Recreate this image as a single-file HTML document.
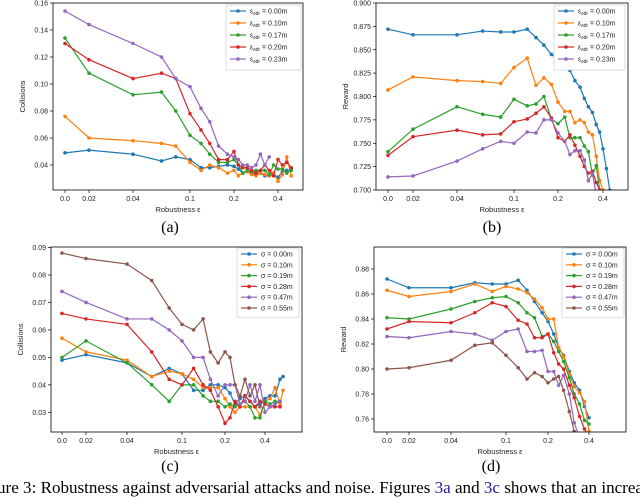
<!DOCTYPE html>
<html><head><meta charset="utf-8"><style>
html,body{margin:0;padding:0;background:#fff;width:640px;height:497px;overflow:hidden}
svg{display:block}
text{font-family:"Liberation Sans",sans-serif}
.ser{font-family:"Liberation Serif",serif}
</style></head><body>
<svg id="fig" width="640" height="497" viewBox="0 0 640 497">
<text class="ser" x="170" y="232" font-size="16" text-anchor="middle">(a)</text>
<text class="ser" x="492" y="232" font-size="16" text-anchor="middle">(b)</text>
<text class="ser" x="170" y="471" font-size="16" text-anchor="middle">(c)</text>
<text class="ser" x="491" y="471" font-size="16" text-anchor="middle">(d)</text>
<text class="ser" x="-3" y="493" font-size="16.5" textLength="646" lengthAdjust="spacingAndGlyphs">ure 3:  Robustness against adversarial attacks and noise. Figures <tspan fill="#1a1aa0">3a</tspan> and <tspan fill="#1a1aa0">3c</tspan> shows that an increa</text>
</svg>
<script>
const COLORS=['#1f77b4','#ff7f0e','#2ca02c','#d62728','#9467bd','#8c564b'];
const xTickVals=[0,0.02,0.04,0.1,0.2,0.4];
const xTickLabels=['0.0','0.02','0.04','0.1','0.2','0.4'];

// Panel (a)
const xA=[0,0.02,0.04,0.07,0.085,0.1,0.125,0.145,0.165,0.185,0.2,0.22,0.24,0.26,0.28,0.30,0.32,0.34,0.36,0.38,0.40,0.42,0.44,0.46];
const aBlue=[0.049,0.051,0.048,0.043,0.046,0.044,0.038,0.038,0.039,0.040,0.039,0.037,0.034,0.035,0.034,0.033,0.034,0.032,0.032,0.033,0.031,0.035,0.036,0.037];
const aOrange=[0.076,0.060,0.058,0.056,0.054,0.042,0.036,0.040,0.038,0.034,0.036,0.032,0.034,0.035,0.033,0.032,0.034,0.033,0.032,0.034,0.028,0.033,0.046,0.032];
const aGreen=[0.134,0.108,0.092,0.094,0.080,0.062,0.056,0.048,0.042,0.042,0.044,0.040,0.034,0.036,0.035,0.036,0.036,0.036,0.033,0.040,0.037,0.037,0.034,0.036];
const aRed=[0.130,0.118,0.104,0.108,0.104,0.078,0.066,0.056,0.044,0.044,0.050,0.040,0.038,0.038,0.036,0.034,0.036,0.040,0.036,0.032,0.044,0.040,0.042,0.038];
const aPurple=[0.154,0.144,0.130,0.120,0.104,0.098,0.082,0.072,0.054,0.048,0.046,0.044,0.040,0.040,0.038,0.040,0.048,0.040,0.046];
const aYTicks=[0.04,0.06,0.08,0.10,0.12,0.14,0.16];
const aYLabels=['0.04','0.06','0.08','0.10','0.12','0.14','0.16'];
const legendAB=['0.00m','0.10m','0.17m','0.20m','0.23m'];

// Panel (b)
const xB=[0,0.02,0.04,0.067,0.086,0.1,0.13,0.15,0.168,0.185,0.2,0.23,0.253,0.275,0.298,0.317,0.335,0.353,0.37,0.385,0.4,0.415,0.43];
const bBlue=[0.872,0.866,0.866,0.870,0.869,0.869,0.872,0.863,0.855,0.845,0.840,0.835,0.828,0.817,0.810,0.798,0.789,0.783,0.770,0.762,0.744,0.723,0.700];
const bOrange=[0.807,0.821,0.817,0.816,0.814,0.831,0.841,0.812,0.820,0.813,0.794,0.784,0.784,0.772,0.775,0.772,0.762,0.759,0.736,0.710,0.700];
const bGreen=[0.741,0.765,0.789,0.781,0.778,0.797,0.790,0.792,0.800,0.776,0.771,0.778,0.756,0.756,0.756,0.747,0.741,0.716,0.726,0.700];
const bRed=[0.737,0.757,0.764,0.759,0.760,0.773,0.776,0.782,0.789,0.777,0.756,0.752,0.759,0.748,0.736,0.725,0.718,0.720,0.708,0.700];
const bPurple=[0.714,0.715,0.731,0.744,0.752,0.750,0.762,0.761,0.775,0.775,0.761,0.752,0.738,0.742,0.742,0.732,0.710,0.718,0.695];
const bYTicks=[0.700,0.725,0.750,0.775,0.800,0.825,0.850,0.875,0.900];
const bYLabels=['0.700','0.725','0.750','0.775','0.800','0.825','0.850','0.875','0.900'];

// Panel (c)
const xC=[0,0.02,0.04,0.067,0.086,0.1,0.127,0.149,0.166,0.184,0.2,0.225,0.25,0.275,0.3,0.325,0.35,0.375,0.4,0.425,0.45,0.475,0.49];
const cBlue=[0.049,0.051,0.048,0.043,0.046,0.044,0.038,0.038,0.040,0.040,0.039,0.037,0.033,0.035,0.036,0.034,0.032,0.033,0.035,0.036,0.036,0.042,0.043];
const cOrange=[0.057,0.052,0.049,0.043,0.045,0.044,0.042,0.039,0.039,0.039,0.035,0.032,0.030,0.032,0.032,0.032,0.032,0.029,0.034,0.035,0.039,0.033,0.038];
const cGreen=[0.050,0.056,0.048,0.040,0.034,0.040,0.040,0.036,0.034,0.034,0.032,0.033,0.032,0.033,0.034,0.032,0.028,0.028,0.034,0.033,0.034,0.034];
const cRed=[0.066,0.064,0.062,0.052,0.042,0.040,0.046,0.040,0.038,0.032,0.026,0.028,0.034,0.032,0.036,0.034,0.032,0.034,0.033,0.032,0.032,0.032];
const cPurple=[0.074,0.070,0.064,0.064,0.060,0.056,0.050,0.050,0.042,0.036,0.040,0.040,0.040,0.033,0.034,0.040,0.034,0.040,0.030,0.032,0.033,0.034];
const cBrown=[0.088,0.086,0.084,0.078,0.068,0.062,0.060,0.064,0.052,0.048,0.052,0.050,0.040,0.036,0.042,0.036,0.040,0.032];
const cYTicks=[0.03,0.04,0.05,0.06,0.07,0.08,0.09];
const cYLabels=['0.03','0.04','0.05','0.06','0.07','0.08','0.09'];
const legendCD=['0.00m','0.10m','0.19m','0.28m','0.47m','0.55m'];

// Panel (d)
const xD=[0,0.02,0.04,0.066,0.085,0.1,0.129,0.15,0.168,0.186,0.2,0.228,0.252,0.276,0.304,0.328,0.354,0.378,0.4];
const dBlue=[0.872,0.865,0.865,0.869,0.868,0.868,0.871,0.863,0.854,0.845,0.838,0.828,0.817,0.811,0.798,0.789,0.783,0.770,0.761];
const dOrange=[0.863,0.858,0.862,0.868,0.862,0.866,0.864,0.861,0.856,0.849,0.840,0.840,0.817,0.810,0.796,0.786,0.781,0.774,0.750];
const dGreen=[0.841,0.840,0.848,0.854,0.857,0.858,0.853,0.845,0.841,0.826,0.828,0.822,0.814,0.806,0.793,0.780,0.772,0.759,0.756];
const dRed=[0.832,0.838,0.837,0.845,0.853,0.850,0.839,0.836,0.825,0.825,0.828,0.813,0.804,0.800,0.787,0.777,0.762,0.752,0.745];
const dPurple=[0.826,0.825,0.830,0.828,0.823,0.830,0.832,0.814,0.814,0.815,0.798,0.798,0.787,0.795,0.780,0.757,0.745];
const dBrown=[0.800,0.801,0.807,0.819,0.821,0.811,0.801,0.792,0.797,0.794,0.789,0.792,0.794,0.783,0.766,0.750,0.745];
const dYTicks=[0.76,0.78,0.80,0.82,0.84,0.86,0.88,0.90];
const dYLabels=['0.76','0.78','0.80','0.82','0.84','0.86','0.88','0.90'];

const NS='http://www.w3.org/2000/svg';
const fig=document.getElementById('fig');
function mk(tag,attrs,parent){const e=document.createElementNS(NS,tag);for(const k in attrs)e.setAttribute(k,attrs[k]);(parent||fig).appendChild(e);return e;}

function panel(P){
  const g=mk('g',{});
  
  
  const xs=v=>{const t=xTickVals,p=P.xpix;let i=0;while(i<t.length-2&&v>t[i+1])i++;return p[i]+(v-t[i])/(t[i+1]-t[i])*(p[i+1]-p[i]);};
  const ys=v=>P.y0pix+(v-P.y0)/(P.y1-P.y0)*(P.y1pix-P.y0pix);
  const cid='clip-'+P.name;
  const cp=mk('clipPath',{id:cid},g);mk('rect',{x:P.L,y:P.T,width:P.R-P.L,height:P.B-P.T},cp);
  P.yt.forEach((v,i)=>{const y=ys(v);if(y<P.T-2||y>P.B+2)return;
    mk('line',{x1:P.L-3,x2:P.L,y1:y,y2:y,stroke:'#000','stroke-width':0.7},g);
    const t=mk('text',{x:P.L-5,y:y+2.5,'font-size':7,'text-anchor':'end',fill:'#222'},g);t.textContent=P.yl[i];
    
    });
  xTickVals.forEach((v,i)=>{const x=xs(v);
    mk('line',{x1:x,x2:x,y1:P.B,y2:P.B+3,stroke:'#000','stroke-width':0.7},g);
    const t=mk('text',{x:x,y:P.B+11,'font-size':7,'text-anchor':'middle',fill:'#222'},g);t.textContent=xTickLabels[i];
    
    });
  const xl=mk('text',{x:(P.L+P.R)/2,y:P.B+22,'font-size':7.5,'text-anchor':'middle',fill:'#222'},g);xl.textContent='Robustness ε';
  
  
  const yl=mk('text',{x:0,y:0,'font-size':7.5,'text-anchor':'middle',fill:'#222',transform:`translate(${P.L-28},${(P.T+P.B)/2}) rotate(-90)`},g);yl.textContent=P.ylabel;
  
  
  const sg=mk('g',{'clip-path':`url(#${cid})`},g);
  P.series.forEach((s,k)=>{
    const pts=s.map((v,i)=>[xs(P.x[i]),ys(v)]);
    const pl=mk('polyline',{points:pts.map(p=>p.join(',')).join(' '),fill:'none',stroke:COLORS[k],'stroke-width':1.2},sg);
    
    
    pts.forEach(p=>{const c=mk('circle',{cx:p[0],cy:p[1],r:1.8,fill:COLORS[k]},sg);
      
      });
  });
  const fr=mk('rect',{x:P.L,y:P.T,width:P.R-P.L,height:P.B-P.T,fill:'none',stroke:'#000','stroke-width':0.8},g);
  
  
  const lg=mk('g',{},g);
  
  
  const n=P.legend.length;
  mk('rect',{x:P.lx,y:P.ly,width:P.lw,height:n*P.ls+5,fill:'#fff',stroke:'#ccc','stroke-width':0.7,rx:1.5},lg);
  P.legend.forEach((lab,i)=>{const y=P.ly+6+i*P.ls;
    mk('line',{x1:P.lx+4,x2:P.lx+20,y1:y,y2:y,stroke:COLORS[i],'stroke-width':1.2},lg);
    mk('circle',{cx:P.lx+12,cy:y,r:1.8,fill:COLORS[i]},lg);
    const t=mk('text',{x:P.lx+24,y:y+2.5,'font-size':7,fill:'#222'},lg);
    
    
    if(P.sym==='e'){t.innerHTML='ε<tspan font-size="5" dy="1.5">sdr</tspan><tspan dy="-1.5"> = '+lab+'</tspan>';}
    else{t.textContent='σ = '+lab;}
  });
}

panel({name:'panel-a-collisions',L:53,R:303,T:3,B:190,xpix:[65,89,133,190,234,278],y0:0.04,y0pix:165,y1:0.16,y1pix:3,
  yt:aYTicks,yl:aYLabels,ylabel:'Collisions',x:xA,series:[aBlue,aOrange,aGreen,aRed,aPurple],
  legend:legendAB,sym:'e',lx:226,ly:5,lw:75,ls:12});
panel({name:'panel-b-reward',L:376,R:628,T:3,B:190,xpix:[388,413,457,514,558,603],y0:0.700,y0pix:190,y1:0.900,y1pix:3,
  yt:bYTicks,yl:bYLabels,ylabel:'Reward',x:xB,series:[bBlue,bOrange,bGreen,bRed,bPurple],
  legend:legendAB,sym:'e',lx:554,ly:5,lw:71,ls:12});
panel({name:'panel-c-collisions',L:51,R:302,T:247,B:432,xpix:[62,86,127,182,225,265],y0:0.03,y0pix:412.3,y1:0.08,y1pix:275,
  yt:cYTicks,yl:cYLabels,ylabel:'Collisions',x:xC,series:[cBlue,cOrange,cGreen,cRed,cPurple,cBrown],
  legend:legendCD,sym:'s',lx:237,ly:248,lw:62,ls:10.8});
panel({name:'panel-d-reward',L:374,R:626,T:247,B:432,xpix:[387,409,451,506,548,589],y0:0.76,y0pix:419,y1:0.88,y1pix:269,
  yt:dYTicks,yl:dYLabels,ylabel:'Reward',x:xD,series:[dBlue,dOrange,dGreen,dRed,dPurple,dBrown],
  legend:legendCD,sym:'s',lx:562,ly:248,lw:62,ls:10.8});
</script>
</body></html>
